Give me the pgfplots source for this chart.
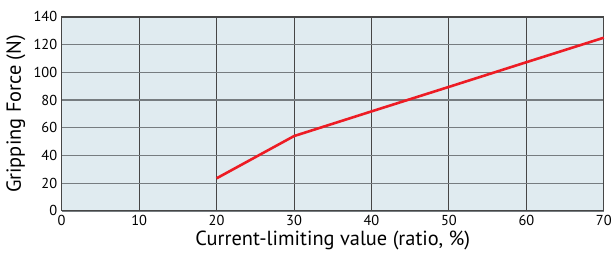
\documentclass[border=0pt]{standalone}
\usepackage{fontspec}
\setmainfont{PT Sans}
\usepackage{pgfplots}
\pgfplotsset{compat=1.18}
\definecolor{bgc}{RGB}{224,235,240}
\definecolor{vgrid}{RGB}{70,70,70}
\definecolor{hgrid}{RGB}{118,124,128}
\definecolor{redl}{RGB}{237,28,36}
\begin{document}
\begin{tikzpicture}
\begin{axis}[
  width=545pt, height=195pt, scale only axis,
  xmin=0, xmax=70, ymin=0, ymax=140,
  xtick={0,10,...,70}, ytick={0,20,...,140},
  axis background/.style={fill=bgc},
  axis line style={draw=vgrid, line width=1.2pt},
  major tick length=0pt,
  xmajorgrids=true, ymajorgrids=true,
  x grid style={vgrid, line width=1pt},
  y grid style={hgrid, line width=1.3pt},
  axis on top=false,
  tick label style={font=\fontsize{14.5}{15}\selectfont},
  /pgf/number format/assume math mode=true,
  xticklabel style={yshift=-1pt},
  yticklabel style={xshift=-1pt},
  xlabel={Current-limiting value (ratio, \%)},
  ylabel={Gripping Force (N)},
  label style={font=\fontsize{20.5}{22}\selectfont},
  xlabel style={at={(axis description cs:0.5,0)}, anchor=north, yshift=-17pt},
  ylabel style={at={(axis description cs:0,0.5)}, anchor=south, yshift=33pt},
  clip=false,
]
\addplot[redl, line width=2.6pt, line join=round] coordinates {
  (20,23.5) (30,54) (40,71.8) (50,89.5) (60,107.3) (70,125)
};
\end{axis}
\path ([shift={(-62pt,-45pt)}]current axis.south west) rectangle ([shift={(8pt,17pt)}]current axis.north east);
\end{tikzpicture}
\end{document}
